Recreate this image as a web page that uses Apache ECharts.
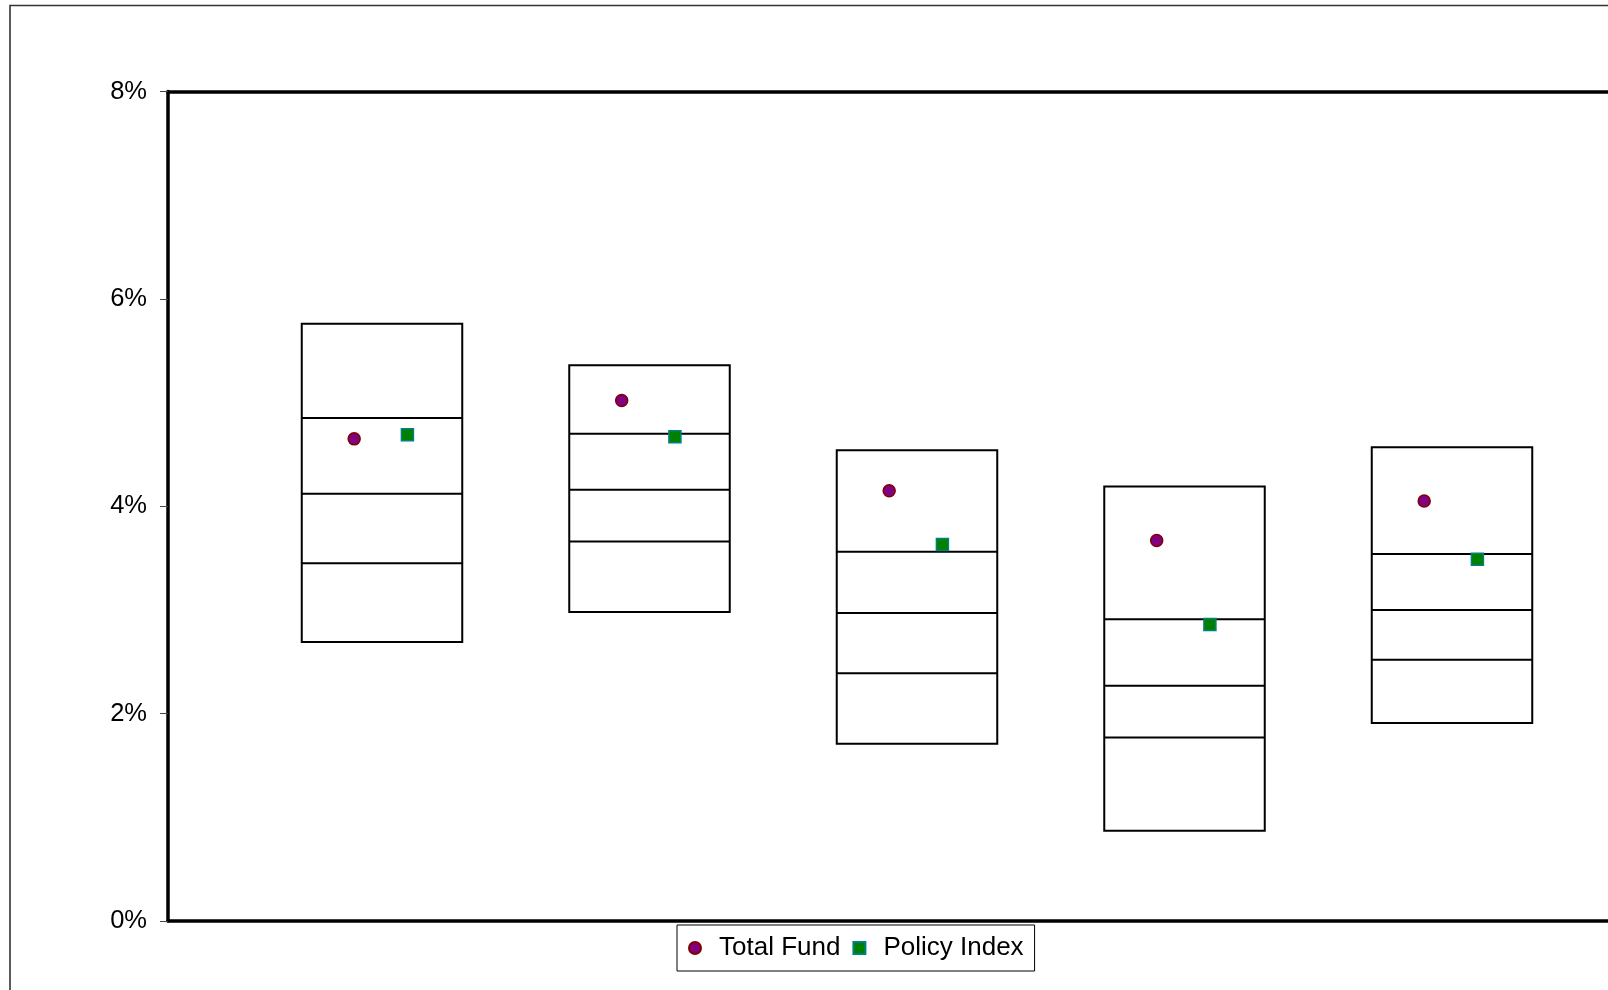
<!DOCTYPE html>
<html>
<head>
<meta charset="utf-8">
<script src="https://cdn.jsdelivr.net/npm/echarts@6/dist/echarts.min.js"></script>
<style>
html,body{margin:0;padding:0;background:#fff;}
#chart{width:1608px;height:990px;}
</style>
</head>
<body>
<div id="chart"></div>
<script>
// Category index of each period (no labels shown on the reference)
const periods = [1, 2, 3, 4, 5];
// Percentile bands (values in %)
const p05 = [5.76, 5.36, 4.54, 4.19, 4.57];
const p25 = [4.85, 4.70, 3.56, 2.91, 3.54];
const p50 = [4.12, 4.16, 2.97, 2.27, 3.00];
const p75 = [3.45, 3.66, 2.39, 1.77, 2.52];
const p95 = [2.69, 2.98, 1.71, 0.87, 1.91];
// Series
const totalFund = [4.65, 5.02, 4.15, 3.67, 4.05];
const policyIndex = [4.69, 4.67, 3.63, 2.86, 3.49];
// Y-axis ticks
const yTicks = [0, 2, 4, 6, 8];

const BOX_W = 0.6;
const TF_OFF = -0.104;
const PI_OFF = 0.095;
const X_MIN = 0.2;
const X_MAX = 0.2 + 1440 / 267.5;

const boxData = periods.map((p, i) => [p, p05[i], p25[i], p50[i], p75[i], p95[i]]);
const tfData = periods.map((p, i) => [p + TF_OFF, totalFund[i]]);
const piData = periods.map((p, i) => [p + PI_OFF, policyIndex[i]]);

const chart = echarts.init(document.getElementById('chart'), null, {renderer: 'canvas'});
const option = {
  animation: false,
  backgroundColor: '#fff',
  textStyle: {fontFamily: 'Liberation Sans, Arial, sans-serif'},
  graphic: [{
    type: 'rect',
    shape: {x: 10, y: 5.5, width: 1800, height: 1200},
    style: {fill: 'none', stroke: '#333', lineWidth: 1.6},
    z: -10, silent: true
  }],
  grid: {left: 168, top: 91.5, right: 0, height: 829.5},
  xAxis: [{
    type: 'value', min: X_MIN, max: X_MAX, position: 'bottom',
    axisLine: {show: true, onZero: false, lineStyle: {color: '#000', width: 3.5}},
    axisTick: {show: false}, axisLabel: {show: false}, splitLine: {show: false}
  }, {
    type: 'value', min: X_MIN, max: X_MAX, position: 'top',
    axisLine: {show: true, onZero: false, lineStyle: {color: '#000', width: 3.5}},
    axisTick: {show: false}, axisLabel: {show: false}, splitLine: {show: false}
  }],
  yAxis: {
    type: 'value', min: yTicks[0], max: yTicks[yTicks.length - 1], interval: 2,
    axisLine: {show: true, onZero: false, lineStyle: {color: '#000', width: 3.5}},
    axisTick: {show: true, length: 8, lineStyle: {color: '#444', width: 1}},
    axisLabel: {formatter: '{value}%', fontSize: 25.5, color: '#000', margin: 21},
    splitLine: {show: false}
  },
  legend: {
    data: ['Total Fund', 'Policy Index'],
    left: 677, top: 925,
    orient: 'horizontal',
    itemWidth: 12, itemHeight: 12, itemGap: 12,
    padding: [10, 11],
    borderColor: '#000', borderWidth: 1,
    textStyle: {fontSize: 26, color: '#000', padding: [0, 0, 0, 13]}
  },
  series: [{
    type: 'custom',
    name: 'bands',
    data: boxData,
    encode: {x: 0, y: [1, 2, 3, 4, 5]},
    z: 2,
    renderItem: function (params, api) {
      const x = api.value(0);
      const half = api.size([BOX_W, 0])[0] / 2;
      const cx = api.coord([x, 0])[0];
      const ys = [1, 2, 3, 4, 5].map(k => api.coord([x, api.value(k)])[1]);
      const children = [{
        type: 'rect',
        shape: {x: cx - half, y: ys[0], width: half * 2, height: ys[4] - ys[0]},
        style: {stroke: '#000', lineWidth: 2, fill: 'none'}
      }];
      for (let k = 1; k <= 3; k++) {
        children.push({
          type: 'line',
          shape: {x1: cx - half, y1: ys[k], x2: cx + half, y2: ys[k]},
          style: {stroke: '#000', lineWidth: 2}
        });
      }
      return {type: 'group', children: children};
    }
  }, {
    type: 'scatter', name: 'Total Fund', data: tfData,
    symbol: 'circle', symbolSize: 12, z: 5,
    itemStyle: {color: '#800080', borderColor: '#800000', borderWidth: 1.5, opacity: 1}
  }, {
    type: 'scatter', name: 'Policy Index', data: piData,
    symbol: 'rect', symbolSize: 12, z: 5,
    itemStyle: {color: '#008000', borderColor: '#008080', borderWidth: 1.5, opacity: 1}
  }]
};
chart.setOption(option);
</script>
</body>
</html>
